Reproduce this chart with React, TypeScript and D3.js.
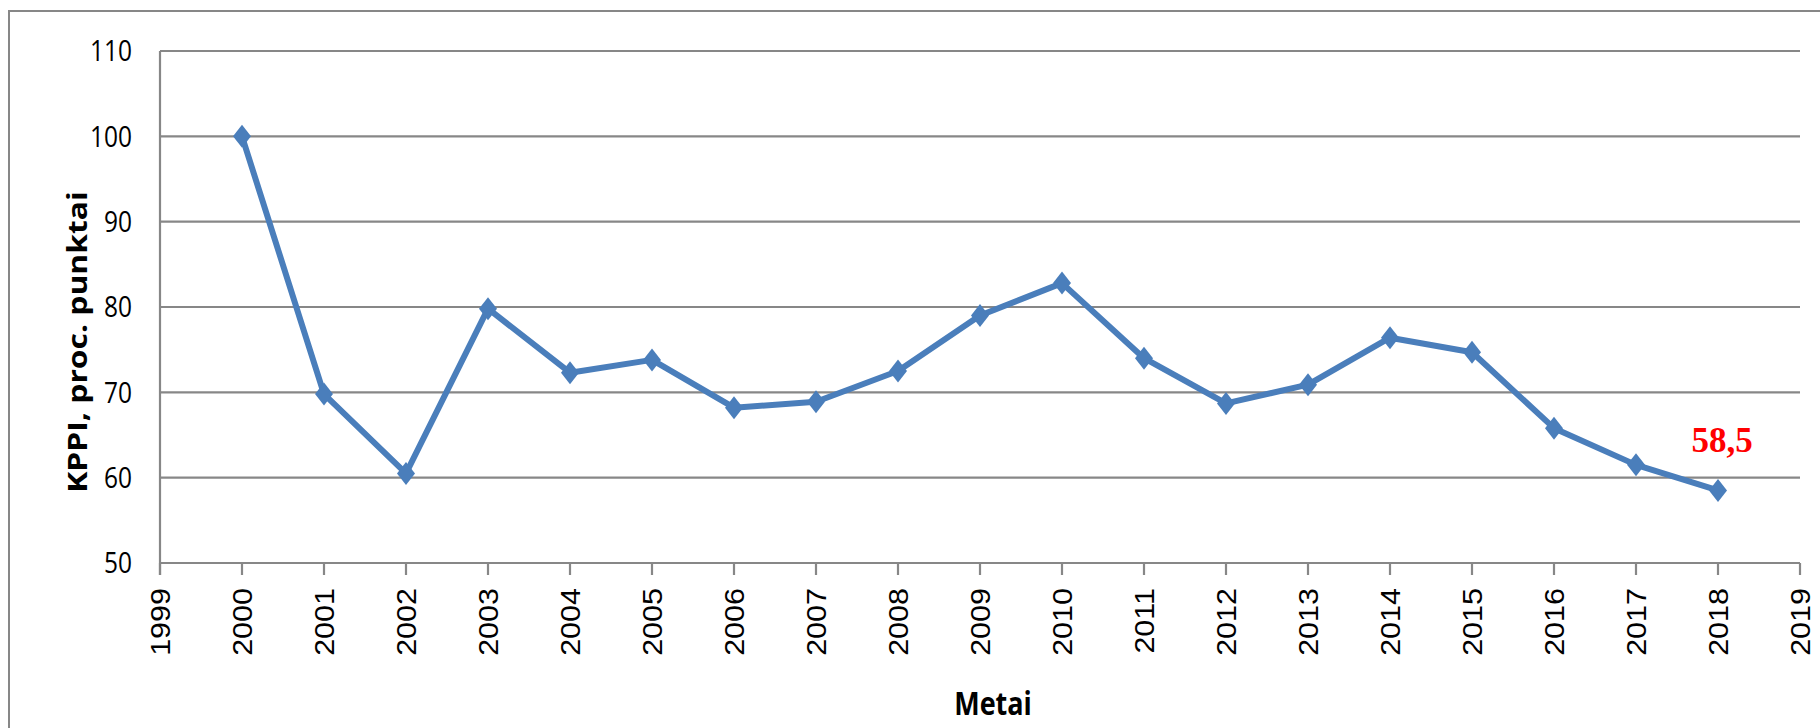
import * as d3 from "d3";
import React, { useEffect, useRef } from "react";

// metai ir KPPI reikšmės
const years = [2000, 2001, 2002, 2003, 2004, 2005, 2006, 2007, 2008, 2009, 2010, 2011, 2012, 2013, 2014, 2015, 2016, 2017, 2018];
const kppi = [100, 69.8, 60.5, 79.8, 72.3, 73.8, 68.2, 68.9, 72.5, 79.0, 82.8, 74.0, 68.7, 70.9, 76.4, 74.7, 65.8, 61.5, 58.5];
const xTicks = d3.range(1999, 2020);
const yTicks = [50, 60, 70, 80, 90, 100, 110];
const lastLabel = "58,5";

const App: React.FC = () => {
  const svgRef = useRef<SVGSVGElement>(null);
  const isRender = useRef(false);

  useEffect(() => {
    if (isRender.current || !svgRef.current) return;
    isRender.current = true;

    const W = 1820, H = 728;
    const svg = d3.select(svgRef.current).attr("width", W).attr("height", H);
    const grey = "#878787";
    const stretch = 1.18; // paveikslas ištemptas vertikaliai

    // rėmelis
    svg.append("rect")
      .attr("x", 9).attr("y", 11)
      .attr("width", W + 20).attr("height", H + 20)
      .attr("fill", "none").attr("stroke", grey).attr("stroke-width", 2);

    const x = d3.scaleLinear().domain([1999, 2019]).range([160, 1800]);
    const y = d3.scaleLinear().domain([50, 110]).range([563, 51]);

    // horizontalios tinklelio linijos
    svg.append("g")
      .selectAll("line")
      .data(yTicks)
      .enter()
      .append("line")
      .attr("x1", x(1999)).attr("x2", x(2019))
      .attr("y1", (d) => y(d)).attr("y2", (d) => y(d))
      .attr("stroke", grey).attr("stroke-width", 2.2);

    // y ašis
    svg.append("line")
      .attr("x1", x(1999)).attr("x2", x(1999))
      .attr("y1", y(110)).attr("y2", y(50) + 12)
      .attr("stroke", grey).attr("stroke-width", 2.2);

    // x ašies brūkšneliai
    svg.append("g")
      .selectAll("line")
      .data(xTicks)
      .enter()
      .append("line")
      .attr("x1", (d) => x(d)).attr("x2", (d) => x(d))
      .attr("y1", y(50)).attr("y2", y(50) + 12)
      .attr("stroke", grey).attr("stroke-width", 2.2);

    // y ašies žymės
    svg.append("g")
      .selectAll("text")
      .data(yTicks)
      .enter()
      .append("text")
      .attr("transform", (d) => `translate(132,${y(d)}) scale(1,${stretch})`)
      .attr("dy", "0.36em")
      .attr("text-anchor", "end")
      .style("font-family", "'Open Sans', sans-serif")
      .style("font-size", "24.5px")
      .style("fill", "#000")
      .text((d) => d);

    // x ašies žymės
    svg.append("g")
      .selectAll("text")
      .data(xTicks)
      .enter()
      .append("text")
      .attr("transform", (d) => `translate(${x(d)},588) scale(1,${stretch - 0.05}) rotate(-90)`)
      .attr("dy", "0.36em")
      .attr("text-anchor", "end")
      .style("font-family", "'Liberation Sans', Arial, sans-serif")
      .style("font-size", "27px")
      .style("fill", "#000")
      .text((d) => d);

    // ašių pavadinimai
    svg.append("text")
      .attr("transform", `translate(87,342) scale(1,${stretch}) rotate(-90)`)
      .attr("text-anchor", "middle")
      .style("font-family", "'Open Sans', sans-serif")
      .style("font-weight", "bold")
      .style("font-size", "27px")
      .style("fill", "#000")
      .text("KPPI, proc. punktai");

    svg.append("text")
      .attr("transform", `translate(993,715) scale(1,${stretch})`)
      .attr("text-anchor", "middle")
      .style("font-family", "'Open Sans', sans-serif")
      .style("font-weight", "bold")
      .style("font-size", "27px")
      .style("fill", "#000")
      .text("Metai");

    // linija
    const line = d3.line<number>()
      .x((_, i) => x(years[i]))
      .y((d) => y(d));

    svg.append("path")
      .datum(kppi)
      .attr("d", line)
      .attr("fill", "none")
      .attr("stroke", "#4a7ebb")
      .attr("stroke-width", 6)
      .attr("stroke-linejoin", "round");

    // rombai
    svg.append("g")
      .selectAll("path")
      .data(kppi)
      .enter()
      .append("path")
      .attr("transform", (d, i) => `translate(${x(years[i])},${y(d)})`)
      .attr("d", "M0,-11.5L9,0L0,11.5L-9,0Z")
      .attr("fill", "#4a7ebb");

    // paskutinės reikšmės užrašas
    svg.append("text")
      .attr("x", x(years[years.length - 1]) + 4)
      .attr("y", y(kppi[kppi.length - 1]) - 38)
      .attr("text-anchor", "middle")
      .style("font-family", "'Liberation Serif', 'Times New Roman', serif")
      .style("font-weight", "bold")
      .style("font-size", "35px")
      .style("fill", "#ff0000")
      .text(lastLabel);
  }, []);

  return (
    <svg
      ref={svgRef}
      style={{ position: "absolute", left: 0, top: 0, display: "block", background: "#fff" }}
    />
  );
};

export default App;
